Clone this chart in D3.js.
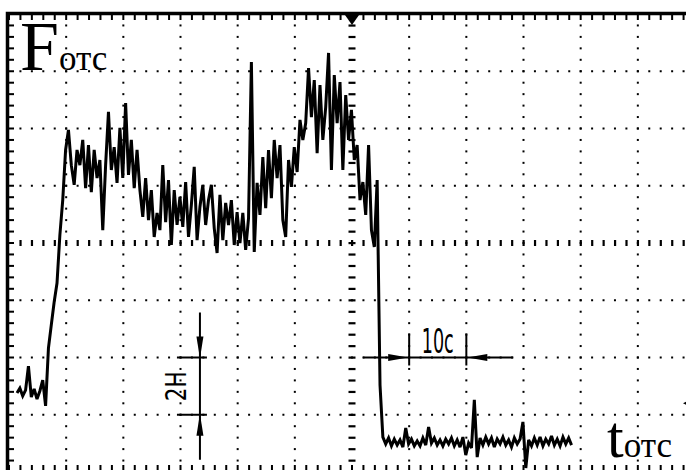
<!DOCTYPE html>
<html>
<head>
<meta charset="utf-8">
<script src="https://cdn.jsdelivr.net/npm/d3@7/dist/d3.min.js"></script>
<style>
  body { margin: 0; background: #fff; }
  svg { display: block; }
  .serif { font-family: "Liberation Serif", "Times New Roman", "DejaVu Serif", serif; }
  .narrow { font-family: "Liberation Sans Narrow", "DejaVu Sans Condensed", "Liberation Sans", sans-serif; }
</style>
</head>
<body>
<div id="chart"></div>
<script>
// oscilloscope screen: 12 x 8 divisions, 10 c / div horizontally, 2 H / div vertically
const timeDomain = [0, 120];
const forceDomain = [0, 16];
const centerTime = 60;
const centerForce = 8;

// trace, one sample every 0.5 c starting at 1.4 c
const sampleStart = 1.4;
const sampleStep = 0.5;
const force = [
  2.76, 2.93, 2.66, 2.86, 3.70, 2.62, 2.90, 2.55, 2.83, 3.21, 2.31,
  4.33, 5.14, 5.94, 6.60, 8.28, 9.50, 11.25, 11.95,
  10.72, 10.03, 11.25, 10.72, 11.60, 9.92, 11.42, 9.78, 11.25, 10.27, 10.90,
  8.45, 10.72, 12.58, 10.55, 11.35, 10.10, 12.02, 10.27, 12.89, 10.38,
  11.60, 9.92, 11.25, 9.85, 8.91, 10.27, 8.80, 9.85, 8.21, 9.05,
  8.45, 10.72, 8.73, 10.20, 7.93, 9.85, 8.63, 9.61, 8.56, 10.13,
  8.21, 9.33, 10.66, 8.10, 9.26, 10.03, 8.63, 9.50, 10.03, 8.52,
  7.65, 9.68, 8.10, 9.40, 8.63, 9.50, 7.93, 9.08, 8.00, 9.05,
  7.76, 8.87, 14.32, 7.69, 10.10, 8.98, 11.00, 9.22, 11.25, 9.57,
  11.60, 10.27, 11.42, 8.80, 8.21, 10.90, 9.96, 11.35, 10.48, 12.30,
  11.60, 12.19, 14.11, 12.40, 13.69, 11.14, 13.52, 11.60, 12.75, 14.64,
  10.55, 13.87, 12.19, 13.62, 10.55, 13.17, 11.60, 12.65, 10.90, 11.42,
  9.50, 10.13, 8.98, 11.42, 8.45, 7.86, 10.20, 3.04, 1.22,
  0.98, 1.19, 0.91, 1.15, 0.94, 1.12, 0.87, 1.54, 0.98, 1.15,
  0.91, 1.08, 0.91, 1.19, 0.94, 1.57, 1.01, 1.19, 0.94, 1.12,
  0.91, 1.15, 0.98, 1.19, 0.91, 1.12, 0.87, 1.22, 0.59, 1.01,
  0.84, 2.52, 0.52, 1.19, 0.94, 1.22, 0.98, 1.19, 0.87, 1.15,
  0.98, 1.22, 0.94, 1.12, 0.87, 1.19, 0.98, 1.15, 1.75, 0.14,
  1.12, 0.91, 1.19, 0.94, 1.22, 0.91, 1.15, 0.98, 1.26, 0.94,
  1.15, 0.91, 1.22, 0.98, 1.19, 0.94
];

// dimension marks
const timeMark = [70, 80];      // "10c"
const forceMark = [2, 4];       // "2H"
const forceMarkTime = 33.4;     // where the "2H" dimension stands
const triggerLevel = 2.4;

const width = 686, height = 470;

const svg = d3.select('#chart').append('svg')
  .attr('width', width)
  .attr('height', height);

const x = d3.scaleLinear().domain(timeDomain).range([9, 695]);
const y = d3.scaleLinear().domain(forceDomain).range([472, 14]);

const majorX = d3.range(1, 12).map(i => i * 10);
const majorY = d3.range(1, 8).map(i => i * 2);
const minorX = d3.range(0, 61).map(i => i * 2);
const minorY = d3.range(0, 41).map(i => i * 0.4);

const grid = svg.append('g').attr('fill', '#000');

// dotted grid lines
majorY.filter(v => v !== centerForce).forEach(fy => {
  grid.selectAll(null)
    .data(minorX.slice(1, -1))
    .join('rect')
    .attr('x', d => x(d) - 1)
    .attr('y', y(fy) - 1)
    .attr('width', 2)
    .attr('height', 2);
});
majorX.filter(v => v !== centerTime).forEach(t => {
  grid.selectAll(null)
    .data(minorY.slice(1, -1))
    .join('rect')
    .attr('x', x(t) - 1)
    .attr('y', d => y(d) - 1)
    .attr('width', 2)
    .attr('height', 2);
});

// centre lines with longer dashes
grid.selectAll(null)
  .data(minorX.slice(1, -1))
  .join('rect')
  .attr('x', d => x(d) - 1)
  .attr('y', y(centerForce) - 3)
  .attr('width', 2.2)
  .attr('height', 6);
grid.selectAll(null)
  .data(minorY.slice(1, -1))
  .join('rect')
  .attr('x', x(centerTime) - 3.5)
  .attr('y', d => y(d) - 1)
  .attr('width', 7)
  .attr('height', 2.2);

// frame
svg.append('rect')
  .attr('x', x(0) - 1.5)
  .attr('y', y(16) - 0.5)
  .attr('width', x(120) - x(0) + 3)
  .attr('height', y(0) - y(16) + 1)
  .attr('fill', 'none')
  .attr('stroke', '#000')
  .attr('stroke-width', 3.5);

// frame ticks
grid.selectAll(null)
  .data(minorX)
  .join('rect')
  .attr('x', d => x(d) - 1)
  .attr('y', y(16) + 1)
  .attr('width', 2)
  .attr('height', 5);
grid.selectAll(null)
  .data(minorX)
  .join('rect')
  .attr('x', d => x(d) - 1)
  .attr('y', y(0) - 7)
  .attr('width', 2)
  .attr('height', 7);
grid.selectAll(null)
  .data(minorY)
  .join('rect')
  .attr('x', x(0))
  .attr('y', d => y(d) - 1)
  .attr('width', 5)
  .attr('height', 2);

// trigger position marker (top) and level marker (right edge)
svg.append('path')
  .attr('d', d3.line()([[x(centerTime) - 7, y(16) + 1], [x(centerTime) + 7, y(16) + 1], [x(centerTime), y(16) + 11]]))
  .attr('fill', '#000');
svg.append('path')
  .attr('d', d3.line()([[x(120) - 12, y(triggerLevel)], [x(120) - 2, y(triggerLevel) - 5], [x(120) - 2, y(triggerLevel) + 5]]))
  .attr('fill', '#000');

// trace
const time = force.map((d, i) => sampleStart + i * sampleStep);
svg.append('path')
  .datum(force)
  .attr('fill', 'none')
  .attr('stroke', '#000')
  .attr('stroke-width', 3)
  .attr('stroke-linejoin', 'miter')
  .attr('stroke-miterlimit', 3)
  .attr('d', d3.line().x((d, i) => x(time[i])).y(d => y(d)));

// "10c" dimension
const dim = svg.append('g').attr('stroke', '#000').attr('stroke-width', 2);
const ty = y(forceMark[1]);
dim.append('line')
  .attr('x1', x(timeMark[0]) - 46).attr('x2', x(timeMark[1]) + 47)
  .attr('y1', ty).attr('y2', ty);
timeMark.forEach(t => {
  dim.append('line')
    .attr('x1', x(t)).attr('x2', x(t))
    .attr('y1', ty - 24).attr('y2', ty + 8);
});
svg.append('path')
  .attr('d', d3.line()([[x(timeMark[0]) - 1, ty], [x(timeMark[0]) - 21, ty - 3.5], [x(timeMark[0]) - 21, ty + 3.5]]))
  .attr('fill', '#000');
svg.append('path')
  .attr('d', d3.line()([[x(timeMark[1]) + 1, ty], [x(timeMark[1]) + 21, ty - 3.5], [x(timeMark[1]) + 21, ty + 3.5]]))
  .attr('fill', '#000');
svg.append('text')
  .attr('class', 'narrow')
  .attr('x', (x(timeMark[0]) + x(timeMark[1])) / 2)
  .attr('y', ty - 5)
  .attr('text-anchor', 'middle')
  .attr('font-size', 33)
  .attr('textLength', 32)
  .attr('lengthAdjust', 'spacingAndGlyphs')
  .text('10c');

// "2H" dimension
const fx = x(forceMarkTime);
dim.append('line')
  .attr('x1', fx).attr('x2', fx)
  .attr('y1', y(forceMark[1]) - 45).attr('y2', y(forceMark[0]) + 45);
forceMark.forEach(f => {
  dim.append('line')
    .attr('x1', fx - 23).attr('x2', fx + 7)
    .attr('y1', y(f)).attr('y2', y(f));
});
svg.append('path')
  .attr('d', d3.line()([[fx, y(forceMark[1]) + 1], [fx - 3.5, y(forceMark[1]) - 21], [fx + 3.5, y(forceMark[1]) - 21]]))
  .attr('fill', '#000');
svg.append('path')
  .attr('d', d3.line()([[fx, y(forceMark[0]) - 1], [fx - 3.5, y(forceMark[0]) + 21], [fx + 3.5, y(forceMark[0]) + 21]]))
  .attr('fill', '#000');
svg.append('text')
  .attr('class', 'narrow')
  .attr('transform', `translate(${fx - 14},${(y(forceMark[0]) + y(forceMark[1])) / 2}) rotate(-90)`)
  .attr('text-anchor', 'middle')
  .attr('font-size', 28)
  .attr('textLength', 30)
  .attr('lengthAdjust', 'spacingAndGlyphs')
  .text('2H');

// axis names
const fLabel = svg.append('text')
  .attr('class', 'serif')
  .attr('x', 20)
  .attr('y', 70);
fLabel.append('tspan').attr('font-size', 70).text('F');
fLabel.append('tspan').attr('font-size', 35).text('отс');

const tLabel = svg.append('text')
  .attr('class', 'serif')
  .attr('x', 607)
  .attr('y', 457);
tLabel.append('tspan').attr('font-size', 60).text('t');
tLabel.append('tspan').attr('font-size', 35).text('отс');
</script>
</body>
</html>
